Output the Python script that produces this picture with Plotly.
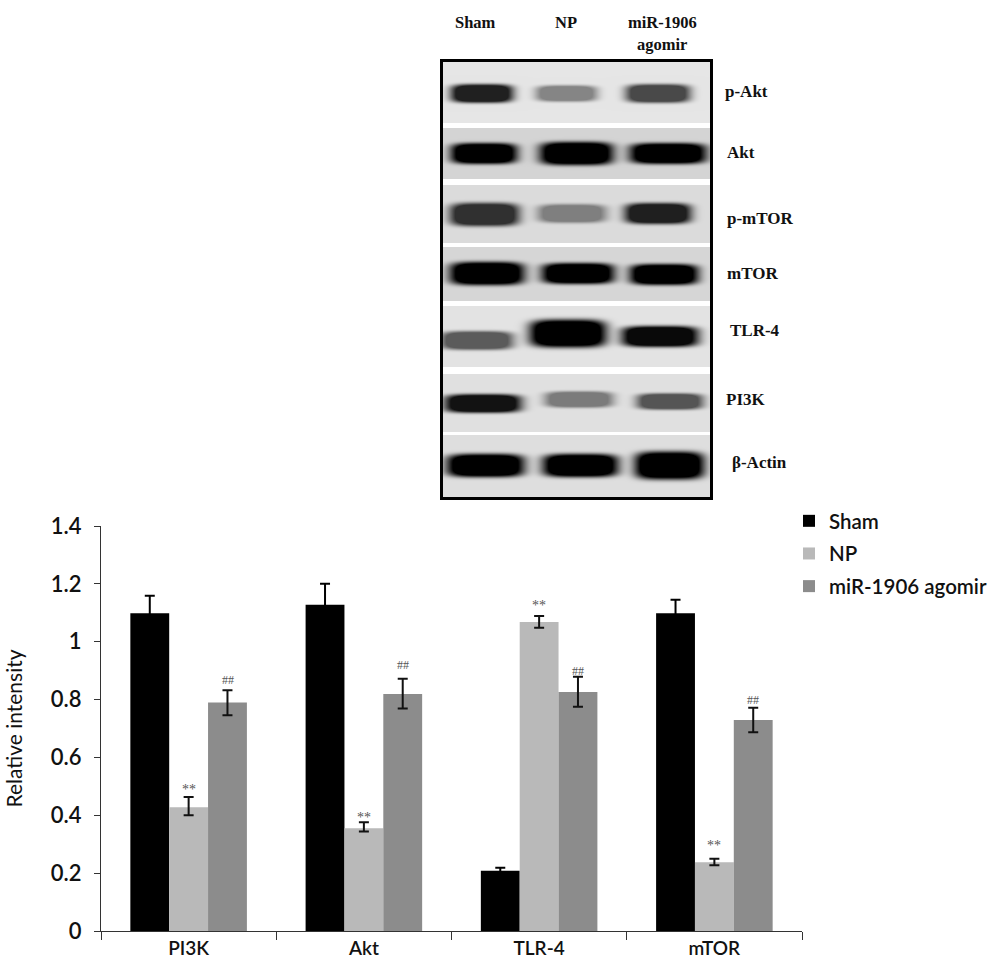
import numpy as np
import plotly.graph_objects as go

categories = ["PI3K", "Akt", "TLR-4", "mTOR"]
series_names = ["Sham", "NP", "miR-1906 agomir"]
sham = [1.098, 1.128, 0.208, 1.098]
np_vals = [0.428, 0.355, 1.068, 0.238]
agomir = [0.79, 0.819, 0.826, 0.729]
sham_up = [0.061, 0.072, 0.011, 0.047]
sham_down = [0.061, 0.072, 0.011, 0.047]
np_up = [0.035, 0.021, 0.021, 0.012]
np_down = [0.028, 0.011, 0.02, 0.011]
agomir_up = [0.042, 0.053, 0.053, 0.043]
agomir_down = [0.044, 0.05, 0.051, 0.042]
y_ticks = [0, 0.2, 0.4, 0.6, 0.8, 1, 1.2, 1.4]
star_heights = [0.49, 0.393, 1.125, 0.295]
hash_heights = [0.868, 0.92, 0.9, 0.797]

# Blot panel: label, label x/y, row top/bottom, background, (left, right, centre y, half height, darkness) per lane
blot_rows = [
    ("p-Akt", 723, 91, 62, 122, 0.90, [(451, 512, 93, 8, 0.86), (536, 596, 93, 7, 0.42), (626, 689, 93, 8, 0.68)]),
    ("Akt", 725, 152, 128, 178, 0.83, [(451, 516, 153, 9, 1.0), (540, 612, 153, 10, 1.0), (630, 705, 153, 9, 1.0)]),
    ("p-mTOR", 725, 218, 185, 242, 0.86, [(450, 518, 214, 10, 0.78), (538, 605, 213, 8, 0.42), (625, 690, 213, 9, 0.86)]),
    ("mTOR", 725, 273, 247, 300, 0.84, [(450, 523, 273, 10, 1.0), (542, 613, 273, 9, 1.0), (630, 697, 274, 9, 1.0)]),
    ("TLR-4", 728, 330, 306, 366, 0.89, [(441, 512, 340, 8, 0.6), (530, 605, 333, 12, 1.0), (622, 697, 336, 9, 0.96)]),
    ("PI3K", 724, 399, 374, 431, 0.88, [(445, 520, 403, 8, 0.92), (545, 612, 399, 7, 0.45), (637, 702, 401, 7, 0.62)]),
    ("β-Actin", 730, 462, 435, 497, 0.87, [(447, 523, 465, 10, 1.0), (543, 617, 465, 10, 1.0), (635, 703, 465, 12, 1.0)]),
]
lane_titles = [("Sham", 475, 22), ("NP", 566, 22), ("miR-1906", 662, 22), ("agomir", 662, 44)]

BLACK, LIGHT, MID = "#000000", "#b9b9b9", "#8c8c8c"
W, H = 988, 964
SANS = "Lato, 'Open Sans', sans-serif"
SERIF = "'Liberation Serif', serif"
AX = "#333333"

fig = go.Figure()
for name, vals, up, down, col, ecol in [
    (series_names[0], sham, sham_up, sham_down, BLACK, "#000000"),
    (series_names[1], np_vals, np_up, np_down, LIGHT, "#111111"),
    (series_names[2], agomir, agomir_up, agomir_down, MID, "#111111"),
]:
    fig.add_trace(go.Bar(
        name=name, x=categories, y=vals, marker=dict(color=col, line=dict(width=0)),
        legendgroup=name,
        error_y=dict(type="data", symmetric=False, array=up, arrayminus=down,
                     color=ecol, thickness=2, width=5),
    ))

# Blot picture
xs = np.arange(443, 711)
ys = np.arange(62, 498)
X, Y = np.meshgrid(xs, ys)
img = np.ones_like(X, dtype=float)
for _, _, _, top, bottom, bg, lanes in blot_rows:
    row_mask = (Y >= top) & (Y <= bottom)
    shade = np.ones_like(img)
    for left, right, cy, hh, dark in lanes:
        cx, hw = (left + right) / 2, (right - left) / 2
        d = np.abs((X - cx) / (hw * 1.02)) ** 4 + np.abs((Y - cy) / (hh * 1.15)) ** 4
        shade *= 1 - dark * np.minimum(1, 1.5 * np.exp(-(d ** 1.3)))
    img[row_mask] = (bg * shade)[row_mask]
fig.add_trace(go.Heatmap(
    x=xs, y=ys, z=img, xaxis="x2", yaxis="y2", zmin=0, zmax=1, showscale=False,
    colorscale=[[0, "#000000"], [1, "#ffffff"]], hoverinfo="skip", showlegend=False,
))

annotations = []
for i in range(len(categories)):
    annotations.append(dict(x=i, y=star_heights[i], xref="x", yref="y", text="**", showarrow=False,
                            font=dict(family=SERIF, size=14, color="#555555")))
    annotations.append(dict(x=i + 0.222, y=hash_heights[i], xref="x", yref="y", text="##", showarrow=False,
                            font=dict(family=SERIF, size=12, color="#555555")))
for text, x, y in lane_titles:
    annotations.append(dict(x=x, y=y, xref="x2", yref="y2", text=f"<b>{text}</b>", showarrow=False,
                            font=dict(family=SERIF, size=16.5, color="#111111")))
for row in blot_rows:
    annotations.append(dict(x=row[1], y=row[2], xref="x2", yref="y2", xanchor="left", text=f"<b>{row[0]}</b>",
                            showarrow=False, font=dict(family=SERIF, size=17, color="#111111")))

fig.update_layout(
    width=W, height=H, margin=dict(l=0, r=0, t=0, b=0, autoexpand=False),
    paper_bgcolor="white", plot_bgcolor="white", barmode="group", bargap=0.335, bargroupgap=0,
    font=dict(family=SANS, color="#111111"),
    xaxis=dict(domain=[101 / W, 802 / W], anchor="y", type="category", tickson="boundaries", ticks="outside",
               ticklen=8, tickcolor=AX, showline=True, linecolor=AX, linewidth=1, showgrid=False,
               tickfont=dict(size=19, family=SANS, weight=600), ticklabelstandoff=0, automargin=False),
    yaxis=dict(domain=[(H - 931) / H, (H - 526) / H], anchor="x", range=[0, 1.4], tickmode="array",
               tickvals=y_ticks, ticktext=[str(t) for t in y_ticks], ticks="outside", ticklen=6, tickcolor=AX,
               showline=True, linecolor=AX, linewidth=1, showgrid=False, zeroline=False,
               tickfont=dict(size=22, family=SANS, weight=600), ticklabelstandoff=8, automargin=False,
               title=dict(text="Relative intensity", font=dict(size=21, family=SANS), standoff=22)),
    xaxis2=dict(domain=[430 / W, 810 / W], range=[430, 810], anchor="y2", visible=False),
    yaxis2=dict(domain=[(H - 510) / H, 1], range=[510, 0], anchor="x2", visible=False),
    legend=dict(x=789 / W, y=(H - 501) / H, xanchor="left", yanchor="top", bgcolor="rgba(0,0,0,0)",
                tracegroupgap=3, font=dict(size=20.5, family=SANS, color="#111111", weight=600), itemclick=False,
                entrywidth=170, entrywidthmode="pixels"),
    annotations=annotations,
    shapes=[dict(type="rect", xref="x2", yref="y2", x0=441.5, x1=711.5, y0=60.5, y1=498.5,
                 line=dict(color="#000000", width=3), fillcolor="rgba(0,0,0,0)")],
)
fig.write_html("out.html", config={"displayModeBar": False},
               post_script="document.body.style.margin='0';window.dispatchEvent(new Event('resize'));")
